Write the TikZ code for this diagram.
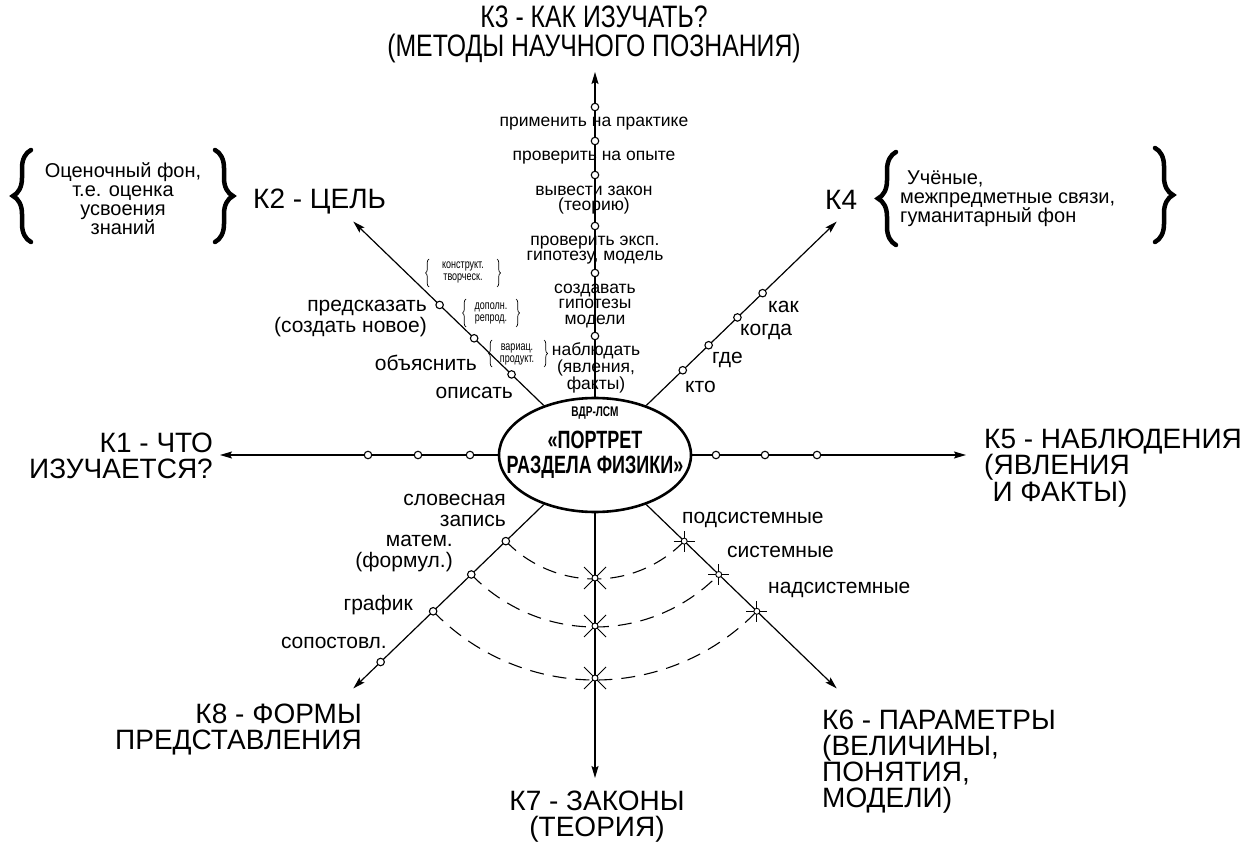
\documentclass[tikz,border=0pt]{standalone}
\usepackage{fontspec}
\setmainfont{Liberation Sans}
\newfontfamily\condf[FakeStretch=0.8]{Liberation Sans}
\newfontfamily\narrowf[FakeStretch=0.72]{Liberation Sans}
\usetikzlibrary{arrows.meta,decorations.pathreplacing,shapes.geometric}
\tikzset{
  axisline/.style={line width=1.2pt,-{Stealth[length=12pt,width=7pt,inset=2pt]}},
  dot/.style={circle,draw,fill=white,line width=1.1pt,minimum size=7.5pt,inner sep=0pt},
  lbl/.style={font=\fontsize{21}{21}\selectfont,inner sep=0pt},
  big/.style={font=\fontsize{28}{26}\selectfont,inner sep=0pt},
  meth/.style={font=\fontsize{17.5}{15.5}\selectfont,inner sep=0pt,align=center},
  tinytext/.style={font=\narrowf\fontsize{12.5}{12}\selectfont,inner sep=0pt,align=center},
  brtext/.style={font=\fontsize{20}{19}\selectfont,inner sep=0pt},
  arcd/.style={line width=1.1pt,dash pattern=on 14pt off 9pt},
  bigbrace/.style={decorate,decoration={brace,amplitude=18pt},line width=4.5pt,line cap=round},
  smallbrace/.style={decorate,decoration={brace,amplitude=3.5pt},line width=0.7pt},
  pluscross/.pic={\draw[line width=1pt] (-10.5pt,0)--(10.5pt,0) (0,-10.5pt)--(0,10.5pt);
                   \draw[line width=0.9pt,fill=white] (0,0) circle (3pt);},
  xcross/.pic={\draw[line width=1pt] (-11pt,-11pt)--(11pt,11pt) (-11pt,11pt)--(11pt,-11pt);
                \draw[line width=0.9pt,fill=white] (0,0) circle (3pt);}
}
\begin{document}
\begin{tikzpicture}[x=1pt,y=-1pt]
\useasboundingbox[fill=white] (0,0) rectangle (1259,842);

% centre
\node[ellipse,draw,line width=2.6pt,minimum width=192pt,minimum height=114pt,inner sep=0pt] (c) at (595,455) {};
\node[font=\narrowf\bfseries\fontsize{14}{14}\selectfont,inner sep=0pt] (t0) at (595,413) {ВДР-ЛСМ};
\node[font=\narrowf\bfseries\fontsize{25}{25}\selectfont,inner sep=0pt] (t1) at (595,440) {«ПОРТРЕТ};
\node[font=\narrowf\bfseries\fontsize{25}{25}\selectfont,inner sep=0pt] (t2) at (595,467) {РАЗДЕЛА ФИЗИКИ»};

% axis end points
\coordinate (k1) at (220,455);
\coordinate (k5) at (966,455);
\coordinate (k3) at (595,72);
\coordinate (k7) at (595,778);
\path (c.center) ++(224:336) coordinate (k2);
\path (c.center) ++(-44:336) coordinate (k4);
\path (c.center) ++(44:336) coordinate (k6);
\path (c.center) ++(136:336) coordinate (k8);

% points on K8 / K6 / K7 for arcs
\path (c.center) ++(136:124) coordinate (m1);
\path (c.center) ++(136:172) coordinate (m2);
\path (c.center) ++(136:225) coordinate (m3);
\path (c.center) ++(136:298) coordinate (m4);
\path (c.center) ++(44:124) coordinate (p1);
\path (c.center) ++(44:172) coordinate (p2);
\path (c.center) ++(44:225) coordinate (p3);
\coordinate (z1) at (595,578);
\coordinate (z2) at (595,626);
\coordinate (z3) at (595,678);

% dashed arcs
\draw[arcd] (m1) arc[start angle=136,end angle=44,radius=124];
\draw[arcd] (m2) arc[start angle=136,end angle=44,radius=172];
\draw[arcd] (m3) arc[start angle=136,end angle=44,radius=225];

% axes
\draw[axisline] (c) -- (k1);
\draw[axisline] (c) -- (k5);
\draw[axisline] (c) -- (k3);
\draw[axisline] (c) -- (k7);
\draw[axisline] (c) -- (k2);
\draw[axisline] (c) -- (k4);
\draw[axisline] (c) -- (k6);
\draw[axisline] (c) -- (k8);

% K1 points
\node[dot] (a1) at (470,455) {};
\node[dot] (a2) at (418,455) {};
\node[dot] (a3) at (368,455) {};
% K5 points
\node[dot] (e1) at (716,455) {};
\node[dot] (e2) at (765,455) {};
\node[dot] (e3) at (817,455) {};
% K3 points
\node[dot] (v1) at (595,336) {};
\node[dot] (v2) at (595,273) {};
\node[dot] (v3) at (595,226) {};
\node[dot] (v4) at (595,175) {};
\node[dot] (v5) at (595,141) {};
\node[dot] (v6) at (595,107) {};
% K2 points
\path (c.center) ++(224:116) node[dot] (b1) {};
\path (c.center) ++(224:168) node[dot] (b2) {};
\path (c.center) ++(224:216) node[dot] (b3) {};
% K4 points
\path (c.center) ++(-44:122) node[dot] (d1) {};
\path (c.center) ++(-44:158) node[dot] (d2) {};
\path (c.center) ++(-44:198) node[dot] (d3) {};
\path (c.center) ++(-44:233) node[dot] (d4) {};
% K8 points
\node[dot] (f1) at (m1) {};
\node[dot] (f2) at (m2) {};
\node[dot] (f3) at (m3) {};
\node[dot] (f4) at (m4) {};
% K6 crosses
\pic at (p1) {pluscross};
\pic at (p2) {pluscross};
\pic at (p3) {pluscross};
% K7 crosses
\pic at (z1) {xcross};
\pic at (z2) {xcross};
\pic at (z3) {xcross};

% main titles
\node[big,anchor=east,align=right] (K1) at (213,456) {К1 - ЧТО\\ИЗУЧАЕТСЯ?};
\node[big,anchor=west,align=left] (K5) at (984,468) {К5 - НАБЛЮДЕНИЯ\\(ЯВЛЕНИЯ\\\hspace{0.3em}И ФАКТЫ)};
\node[font=\condf\fontsize{31}{29}\selectfont,inner sep=0pt,align=center] (K3) at (594,34) {К3 - КАК ИЗУЧАТЬ?\\(МЕТОДЫ НАУЧНОГО ПОЗНАНИЯ)};
\node[big,anchor=west] (K2) at (253,202) {К2 - ЦЕЛЬ};
\node[big,anchor=west] (K4) at (825,200) {К4};
\node[big,anchor=west,align=left] (K6) at (822,762) {К6 - ПАРАМЕТРЫ\\(ВЕЛИЧИНЫ,\\ПОНЯТИЯ,\\МОДЕЛИ)};
\node[big,align=center] (K7) at (597,817) {К7 - ЗАКОНЫ\\(ТЕОРИЯ)};
\node[big,anchor=east,align=right] (K8) at (362,730) {К8 - ФОРМЫ\\ПРЕДСТАВЛЕНИЯ};

% brace groups
\node[brtext,align=center] (n2) at (123,199) {Оценочный фон,\\т.е. оценка\\усвоения\\знаний};
\draw[bigbrace] (31,242) -- (31,150);
\draw[bigbrace] (215,150) -- (215,242);
\node[brtext,align=left,anchor=west] (n4) at (900,199) {\hspace{0.35em}Учёные,\\межпредметные связи,\\гуманитарный фон};
\draw[bigbrace] (896,245) -- (896,152);
\draw[bigbrace] (1155,148) -- (1155,242);

% K3 method labels
\node[meth] (l1) at (594,124) {применить на практике};
\node[meth] (l2) at (594,158) {проверить на опыте};
\node[meth] (l3) at (594,200) {вывести закон\\(теорию)};
\node[meth] (l4) at (595,250) {проверить эксп.\\гипотезу, модель};
\node[meth] (l5) at (595,306) {создавать\\гипотезы\\модели};
\node[meth] (l6) at (596,368) {наблюдать\\(явления,\\факты)};

% small braces
\node[tinytext] (s1) at (463,272) {конструкт.\\творческ.};
\draw[smallbrace] (429,287) -- (429,259);
\draw[smallbrace] (497,259) -- (497,287);
\node[tinytext] (s2) at (491,313) {дополн.\\репрод.};
\draw[smallbrace] (466,327) -- (466,299);
\draw[smallbrace] (516,299) -- (516,327);
\node[tinytext] (s3) at (517,354) {вариац.\\продукт.};
\draw[smallbrace] (492,367) -- (492,340);
\draw[smallbrace] (544,340) -- (544,367);

% K2 labels
\node[lbl,anchor=east,align=right] (g1) at (427,319) {предсказать\\(создать новое)};
\node[lbl,anchor=east] (g2) at (477,363) {объяснить};
\node[lbl,anchor=east] (g3) at (513,393) {описать};

% K4 labels
\node[lbl,anchor=west] (h1) at (768,307) {как};
\node[lbl,anchor=west] (h2) at (740,332) {когда};
\node[lbl,anchor=west] (h3) at (712,360) {где};
\node[lbl,anchor=west] (h4) at (685,387) {кто};

% K6 labels
\node[lbl,anchor=west] (q1) at (682,520) {подсистемные};
\node[lbl,anchor=west] (q2) at (727,552) {системные};
\node[lbl,anchor=west] (q3) at (768,590) {надсистемные};

% K8 labels
\node[lbl,anchor=east,align=right] (r1) at (506,510) {словесная\\запись};
\node[lbl,anchor=east,align=right] (r2) at (453,554) {матем.\\(формул.)};
\node[lbl,anchor=east] (r3) at (413,605) {график};
\node[lbl,anchor=east] (r4) at (387,643) {сопостовл.};
\end{tikzpicture}
\end{document}
